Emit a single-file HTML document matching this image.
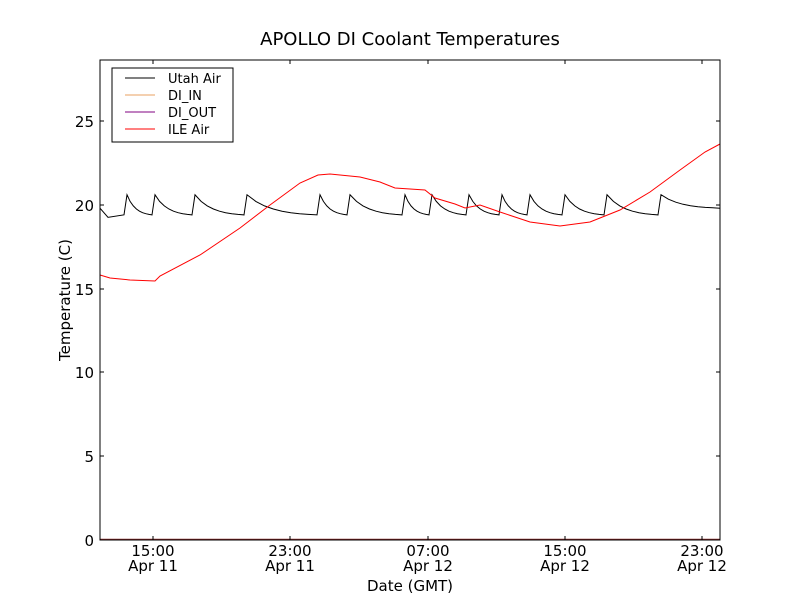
<!DOCTYPE html>
<html><head><meta charset="utf-8"><style>
body{margin:0;background:#fff;}
svg{display:block;font-family:"DejaVu Sans","Liberation Sans",sans-serif;}
</style></head><body>
<svg id="s" width="800" height="600" xmlns="http://www.w3.org/2000/svg">
<rect width="800" height="600" fill="#fff"/>
<text x="410" y="45" font-size="18" text-anchor="middle">APOLLO DI Coolant Temperatures</text>
<g id="plot"></g>
<line x1="100" y1="539.5" x2="720" y2="539.5" stroke="#8a2a2a" stroke-width="1.5"/>
<rect x="100" y="60" width="620" height="480" fill="none" stroke="#000" stroke-width="1"/>
<g font-size="15" text-anchor="end">
<text x="94" y="546">0</text><text x="94" y="462">5</text><text x="94" y="378">10</text>
<text x="94" y="295">15</text><text x="94" y="211">20</text><text x="94" y="127">25</text>
</g>
<g stroke="#000" stroke-width="1">
<line x1="100" y1="456" x2="104" y2="456"/><line x1="100" y1="372" x2="104" y2="372"/><line x1="100" y1="289" x2="104" y2="289"/><line x1="100" y1="205" x2="104" y2="205"/><line x1="100" y1="121" x2="104" y2="121"/>
<line x1="720" y1="456" x2="716" y2="456"/><line x1="720" y1="372" x2="716" y2="372"/><line x1="720" y1="289" x2="716" y2="289"/><line x1="720" y1="205" x2="716" y2="205"/><line x1="720" y1="121" x2="716" y2="121"/>
<line x1="153" y1="540" x2="153" y2="536"/><line x1="290" y1="540" x2="290" y2="536"/><line x1="428" y1="540" x2="428" y2="536"/><line x1="565" y1="540" x2="565" y2="536"/><line x1="702" y1="540" x2="702" y2="536"/>
<line x1="153" y1="60" x2="153" y2="64"/><line x1="290" y1="60" x2="290" y2="64"/><line x1="428" y1="60" x2="428" y2="64"/><line x1="565" y1="60" x2="565" y2="64"/><line x1="702" y1="60" x2="702" y2="64"/>
</g>
<g font-size="15" text-anchor="middle">
<text x="153" y="556">15:00</text><text x="153" y="571">Apr 11</text>
<text x="290" y="556">23:00</text><text x="290" y="571">Apr 11</text>
<text x="428" y="556">07:00</text><text x="428" y="571">Apr 12</text>
<text x="565" y="556">15:00</text><text x="565" y="571">Apr 12</text>
<text x="702" y="556">23:00</text><text x="702" y="571">Apr 12</text>
</g>
<text x="410" y="591" font-size="15" text-anchor="middle">Date (GMT)</text>
<text transform="translate(70,300) rotate(-90)" font-size="15" text-anchor="middle">Temperature (C)</text>
<rect x="112" y="68" width="121" height="74" fill="#fff" stroke="#000"/>
<g stroke-width="1">
<line x1="125" y1="78" x2="155" y2="78" stroke="#000"/>
<line x1="125" y1="95" x2="155" y2="95" stroke="#e8a060"/>
<line x1="125" y1="112" x2="155" y2="112" stroke="#800080"/>
<line x1="125" y1="129" x2="155" y2="129" stroke="#f00"/>
</g>
<g font-size="13">
<text x="168" y="83">Utah Air</text><text x="168" y="100">DI_IN</text>
<text x="168" y="117">DI_OUT</text><text x="168" y="134">ILE Air</text>
</g>
</svg>
<script>
var g=document.getElementById('plot');
function Y(v){return 540-v*16.76;}
var peaks=[127,155,195,247,320,350,405,432,469,502,530,565,607,661];
var d="M100,"+Y(19.8)+" L108,"+Y(19.25);
for(var i=0;i<peaks.length;i++){
 var p=peaks[i];
 d+=" L"+(p-3)+","+Y(19.4)+" L"+p+","+Y(20.6);
 var next=i+1<peaks.length?peaks[i+1]:720;
 var end=i+1<peaks.length?next-3:720;
 var steps=8;
 for(var k=1;k<=steps;k++){
  var t=k/steps;var x=p+(end-p)*t;
  var v=20.6-1.2*(1-Math.exp(-3*t))/(1-Math.exp(-3));
  if(i==peaks.length-1)v=20.6-0.8*(1-Math.exp(-3*t))/(1-Math.exp(-3));
  d+=" L"+x.toFixed(1)+","+Y(v).toFixed(1);
 }
}
var red=[[100,275],[110,278],[130,280],[155,281],[160,276],[200,255],[240,228],[270,205],[300,183],[318,175],[330,174],[360,177],[380,182],[395,188],[425,190],[435,198],[455,204],[465,208],[480,205],[500,212],[530,222],[560,226],[590,222],[620,210],[650,192],[680,170],[705,152],[720,144]];
var rd="M"+red.map(function(p){return p[0]+","+p[1];}).join(" L");
g.innerHTML='<path d="'+d+'" fill="none" stroke="#000" stroke-width="1"/><path d="'+rd+'" fill="none" stroke="#f00" stroke-width="1"/>';
</script>
</body></html>
